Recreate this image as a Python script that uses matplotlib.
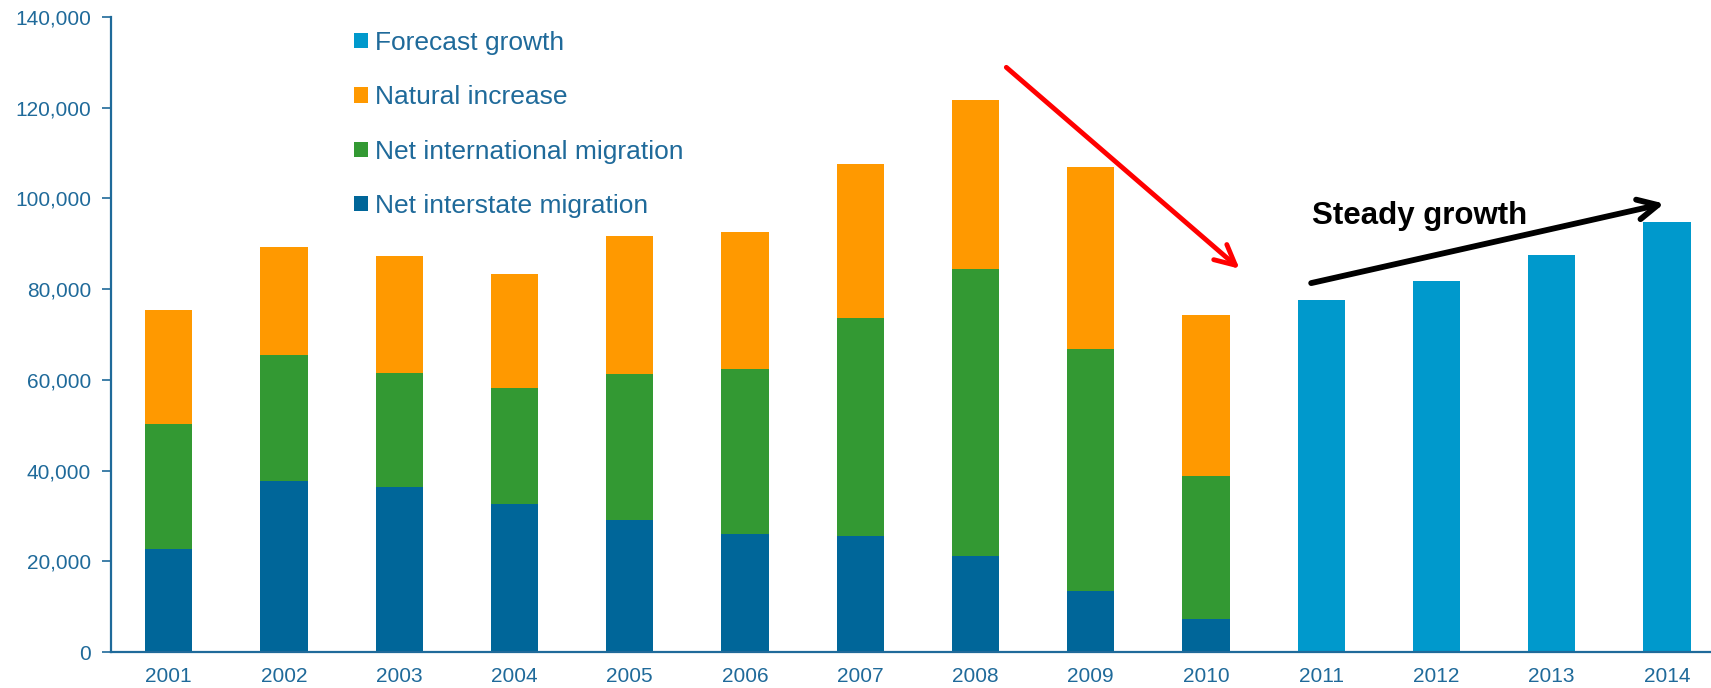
import matplotlib.pyplot as plt
import numpy as np
from matplotlib.ticker import FuncFormatter

plt.rcParams['font.family'] = ['Liberation Sans', 'DejaVu Sans']

# data
years = ['2001', '2002', '2003', '2004', '2005', '2006', '2007',
         '2008', '2009', '2010', '2011', '2012', '2013', '2014']
interstate = [22700, 37700, 36400, 32600, 29200, 26100, 25600, 21200, 13500, 7200]
international = [27500, 27700, 25100, 25600, 32100, 36200, 48000, 63300, 53400, 31700]
natural = [25300, 23900, 25900, 25100, 30400, 30400, 34000, 37100, 40000, 35400]
forecast = [77700, 81800, 87600, 94900]

TEXT_BLUE = '#1f6a9a'
C_INTERSTATE = '#006699'
C_INTL = '#339933'
C_NATURAL = '#ff9900'
C_FORECAST = '#0099cc'

fig = plt.figure(figsize=(17.11, 6.88), dpi=100)
ax = fig.add_axes([0.0649, 0.0523, 0.943, 0.923])

x_hist = np.arange(len(interstate))
x_fc = np.arange(len(interstate), len(years))
w = 0.41

inter = np.array(interstate)
intl = np.array(international)
nat = np.array(natural)

b1 = ax.bar(x_hist, inter, w, color=C_INTERSTATE, label='Net interstate migration')
b2 = ax.bar(x_hist, intl, w, bottom=inter, color=C_INTL, label='Net international migration')
b3 = ax.bar(x_hist, nat, w, bottom=inter + intl, color=C_NATURAL, label='Natural increase')
b4 = ax.bar(x_fc, forecast, w, color=C_FORECAST, label='Forecast growth')

ax.set_xlim(-0.5, 13.5)
ax.set_ylim(0, 140000)
ax.set_yticks(np.arange(0, 140001, 20000))
ax.yaxis.set_major_formatter(FuncFormatter(lambda v, p: f'{int(v):,}'))
ax.set_xticks(np.arange(len(years)))
ax.set_xticklabels(years)

for s in ['top', 'right']:
    ax.spines[s].set_visible(False)
for s in ['left', 'bottom']:
    ax.spines[s].set_color(TEXT_BLUE)
    ax.spines[s].set_linewidth(1.6)
ax.tick_params(axis='y', colors=TEXT_BLUE, labelsize=15, length=6.5, width=1.2, pad=8)
ax.tick_params(axis='x', colors=TEXT_BLUE, labelsize=15, length=0, pad=11)

leg = ax.legend(handles=[b4, b3, b2, b1], loc='upper left',
                bbox_to_anchor=(354 / 1711, 1 - 31 / 688), bbox_transform=fig.transFigure,
                frameon=False, fontsize=19, labelspacing=1.15, handlelength=0.53,
                handleheight=0.53, handletextpad=0.28, borderpad=0, borderaxespad=0)
for t in leg.get_texts():
    t.set_color(TEXT_BLUE)

# annotations
ax.annotate('', xy=(9.31, 84100), xytext=(7.25, 129300),
            arrowprops=dict(arrowstyle='->', color='#ff0000', lw=3.5, mutation_scale=36))
ax.annotate('', xy=(13.0, 99000), xytext=(9.89, 81200),
            arrowprops=dict(arrowstyle='->', color='black', lw=4.2, mutation_scale=36))
ax.text(9.92, 96200, 'Steady growth', fontsize=22.5, fontweight='bold', va='center', ha='left')

fig.savefig('out.png', dpi=100)
